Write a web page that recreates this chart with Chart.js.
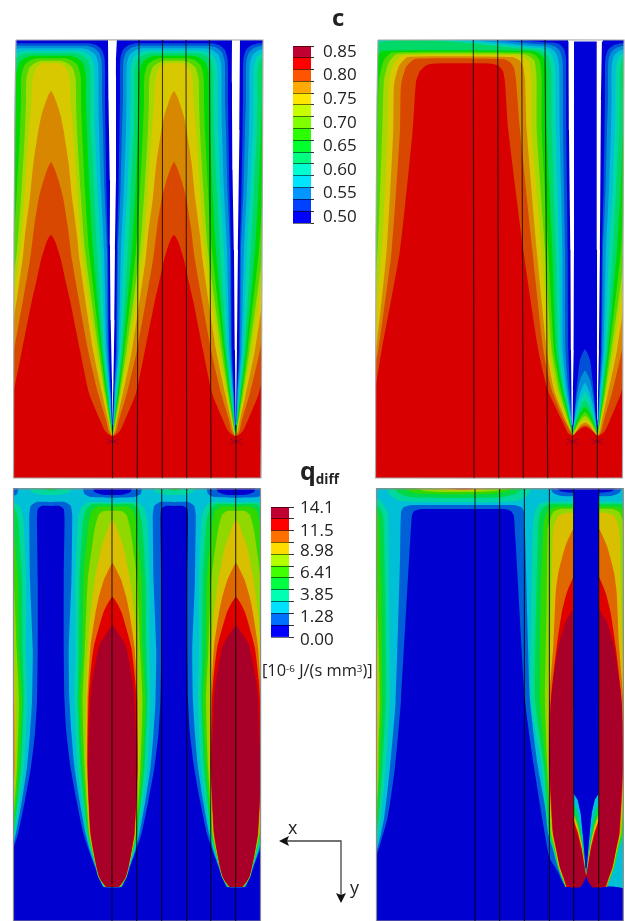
<!DOCTYPE html>
<html><head><meta charset="utf-8">
<script src="https://cdn.jsdelivr.net/npm/chart.js@4"></script>
<style>
html,body{margin:0;padding:0;background:#fff;width:625px;height:921px;overflow:hidden}
canvas{position:absolute;display:block}
.t{position:absolute;z-index:5;font-family:"Open Sans",sans-serif;color:#222;white-space:nowrap;line-height:1}
sup{font-size:60%;line-height:0;vertical-align:baseline;position:relative;top:-.45em}
sub{font-size:54%;line-height:0;vertical-align:baseline;position:relative;top:.28em}
</style></head><body>
<div class="t" style="left:332px;top:5px;font-size:24px;font-weight:700">c</div>
<div class="t" style="left:300px;top:458px;font-size:25px;font-weight:700">q<sub>diff</sub></div>
<div class="t" style="left:262px;top:662px;font-size:16.4px">[10<sup>-6</sup> J/(s mm<sup>3</sup>)]</div>
<div class="t" style="left:288px;top:818px;font-size:18px">x</div>
<div class="t" style="left:350px;top:878px;font-size:18px">y</div>
<svg style="position:absolute;left:0;top:0;z-index:4" width="625" height="921">
<path d="M287 841H341V895" fill="none" stroke="#444" stroke-width="1.3"/>
<path d="M279 841L289 836L287 841L289 846Z" fill="#111"/>
<path d="M341 903L336 893L341 895L346 893Z" fill="#111"/>
</svg>
<script>
// ---------- colours of the contour bands ----------
const cBandColors = ['#0000d8','#0050d8','#0090d8','#00c0d8','#00d8a8','#00d868','#00d800','#50d800','#a8d800','#d8c800','#d88800','#d84800','#d80000'];
const qBlue='#0000d0', qRoyal='#0060d8', qCyan='#00c0d8', qTealC='#00d8a0', qGreenC='#00d848', qBrightC='#30d800', qYgC='#90d800', qYellowC='#d8c000', qOrangeC='#e06800', qRedC='#e00000', qCrimsonC='#a80028';

// ---------- colour bars ----------
const cBarColors = ['#0000ff','#0040ff','#0095ff','#00e5ff','#00ffd0','#00ff80','#00ff2b','#2bff00','#80ff00','#c8ff00','#ffe600','#ffaa00','#ff5500','#ff0000','#c00030'];
const cBarEdges = [0.4875,0.5125,0.5375,0.5625,0.5875,0.6125,0.6375,0.6625,0.6875,0.7125,0.7375,0.7625,0.7875,0.8125,0.8375,0.8625];
const cTickValues = [0.50,0.55,0.60,0.65,0.70,0.75,0.80,0.85];
const qBarColors = ['#0000ff','#0070ff','#00e0ff','#00ffb0','#00ff40','#40ff00','#b4ff00','#ffdc00','#ff7000','#ff0000','#c00030'];
const qBarEdges = [0,1,2,3,4,5,6,7,8,9,10,11];
const qTickPlaces = [-0.25,1.68,3.53,5.38,7.23,8.99,10.9];
const qTickLabels = ['0.00','1.28','3.85','6.41','8.98','11.5','14.1'];

// ---------- c, left panel: half width of each contour about a lobe centre [d, depth] ----------
const cLobeCentres = [51,174,297];
const cL1 = [[0,43.3],[38,43.3],[46,45.5],[51,50],[53.5,58],[54,70],[54,100],[54.5,130],[55.5,190],[57,250],[58,350],[60,393],[61,420],[61.3,430],[61.5,436.5]];
const cL2 = [[0,45.8],[35,45.8],[43,48],[48,52.5],[50.5,60],[51,72],[51,100],[52,130],[53.5,190],[56,250],[57,350],[59.5,393],[60.5,420],[61.2,430],[61.5,436.5]];
const cL3 = [[0,48.3],[31,48.3],[39,50.5],[44.5,55],[47,63],[47.5,75],[47.5,100],[48,130],[50,190],[53,250],[55.5,350],[59,393],[60.5,420],[61.1,430],[61.5,436.5]];
const cL4 = [[0,50.8],[27,50.8],[35,53],[40.5,57.5],[43,66],[43.5,78],[43.5,100],[44,130],[46.5,190],[50,250],[54,350],[58,393],[60,420],[61,430],[61.5,436.5]];
const cL5 = [[0,53.3],[23,53.3],[31,55.5],[36.5,60],[39,69],[39.5,80],[39.5,100],[40,130],[43,190],[46,250],[52.5,350],[57,393],[60,420],[60.9,430],[61.5,436.5]];
const cL6 = [[0,55.8],[19,55.8],[26,58],[31.5,62.5],[34.5,72],[35,85],[35,100],[36,130],[38.5,190],[42,250],[51,350],[56,393],[59.5,420],[60.7,430],[61.5,436.5]];
const cL7 = [[0,58.3],[14,58.3],[21,60.5],[26.5,65],[29.5,75],[30,88],[30,100],[31,130],[34,190],[38,250],[49.5,350],[55,393],[59,420],[60.5,430],[61.5,436.5]];
const cL8 = [[0,60.8],[9,60.8],[16,63],[21.5,67.5],[24.5,78],[25,90],[25,100],[26,130],[29.5,190],[34,250],[47.5,350],[54,393],[58.5,420],[60.2,430],[61.5,436.5]];
const cL9 = [[0,63.3],[8,63.3],[12.5,65.5],[16,70],[18.5,80],[19.5,100],[22,130],[26,190],[31,250],[45.5,350],[53,393],[58,420],[59.8,430],[61.5,436.5]];
const cL10 = [[0,91],[3,96],[6,104],[9.5,115],[12.5,130],[17.5,162],[21,197],[26,235],[28.5,260],[42,350],[51,393],[57,420],[59,430],[61.5,436.5]];
const cL11 = [[0,162],[4,170],[8,182],[12,197],[17,228],[21,260],[37,350],[47,393],[55,420],[57.5,431],[59.5,434.5],[61.5,436.5]];
const cL12 = [[0,235],[4,241],[10,260],[15,283],[19,300],[29,350],[38,393],[49,420],[53.5,430],[57,434],[61.5,436.5]];
const cLevels = [cL1,cL2,cL3,cL4,cL5,cL6,cL7,cL8,cL9,cL10,cL11,cL12];

const slitA1 = [[108,38],[108.5,100],[110,180],[110,250],[110.7,320],[112,380],[112.5,425],[113.5,380],[114.5,320],[115,250],[116,180],[116,60],[117,38]];
const slitA2 = [[232,38],[232,100],[232.5,170],[234,250],[235,350],[236,425],[237,350],[238,250],[239.5,130],[240,38]];
const edgeLeftA = [[16,40],[15,100],[14,240],[13.5,478]];
const edgeRightA = [[263,40],[262,260],[261,478]];
const linesA = [[[139,40],[138,200],[137.3,478]],[[162.5,40],[162.3,478]],[[186,40],[186.7,478]],[[209.5,40],[210,200],[211,478]],[[112.5,425],[112.5,478]],[[236,425],[236,478]]];
const starsA = [[[106.5,444],[118.5,439]],[[106.5,439],[118.5,444]],[[230,444],[242,439]],[[230,439],[242,444]]];

// ---------- c, right panel: contours of the wide lobe [x, depth] ----------
const bL1 = [[370,42.5],[552,42.5],[559,44],[564,49],[566,58],[566.3,130],[567.7,250],[568.3,350],[570,390],[572,420],[572.5,436.5]];
const bL2 = [[370,44.5],[547,44.5],[555,46.5],[560,51],[562.7,62],[563,130],[565,250],[565.5,350],[568.3,390],[571.7,420],[572.5,436.5]];
const bL3 = [[370,46.5],[543,46.5],[551,48.5],[556,53],[559,65],[559.7,130],[562.3,250],[562.7,350],[566.7,390],[571.3,420],[572.5,436.5]];
const bL4 = [[370,48],[539,48],[547,50],[552,55],[555,67],[555.7,130],[559,250],[560.7,350],[565.3,390],[571,420],[572.5,436.5]];
const bL5 = [[370,49.5],[535,49.5],[543,52],[548,57],[551,69],[551.7,130],[555.7,250],[558.3,350],[564,390],[570.3,420],[572.5,436.5]];
const bL6 = [[372,300],[372,70],[376,58],[382,51],[532,51],[539,53.5],[544,58],[546.5,72],[546.7,130],[552.3,250],[556,350],[562.7,390],[569.7,420],[572.5,436.5]];
const bL7 = [[372,300],[375,250],[377.7,130],[379,80],[384,60],[392,52.5],[528,52.5],[535,55],[539.5,60],[541.5,74],[541.7,130],[548.3,250],[554,350],[561,390],[569,420],[572.5,436.5]];
const bL8 = [[372,320],[377.7,250],[382.3,130],[384,80],[389,62],[397,54],[523,54],[530,56.5],[534.5,61],[536.5,76],[536.7,130],[545,250],[551.7,350],[559,390],[568,420],[572.5,436.5]];
const bL9 = [[372,350],[381.7,250],[387.7,130],[389,80],[394,63],[402,55.5],[518,55.5],[525,58],[529.5,63],[531.5,77],[531.7,130],[541.7,250],[549.3,350],[556.7,390],[567,420],[572.5,436.5]];
const bL10 = [[372,365],[376,350],[386.7,250],[393.3,130],[394,85],[399,66],[408,57],[512,57],[519,60],[523,66],[525,80],[526.7,130],[536.7,250],[546.7,350],[554,390],[565.7,420],[572.5,436.5]];
const bL11 = [[372,380],[378.3,350],[391.7,250],[400,130],[401,85],[406,67],[415,59],[503,59],[510,62],[514,68],[516,80],[520,130],[532.3,250],[543.3,350],[551.7,390],[564,420],[572.5,436.5]];
const bL12 = [[370,410],[375,390],[381.7,350],[400,250],[412.7,130],[416,82],[420,71],[427,65],[435,63.5],[490,63.5],[498,65.5],[503,71],[505,82],[508.3,130],[523.3,250],[538.3,350],[547.7,390],[561.7,420],[568,433],[572.5,436.5]];
const bLevels = [bL1,bL2,bL3,bL4,bL5,bL6,bL7,bL8,bL9,bL10,bL11,bL12];
// domes at the foot of the separator [half width, depth]
const dome1 = [[0,349.3],[5,360],[7.5,380],[9.5,400],[11,420],[12.5,436]];
const dome2 = [[0,370.7],[5,380],[8,395],[10,412],[12.5,436]];
const dome3 = [[0,383],[4.5,392],[8,405],[10.5,420],[12.5,436]];
const dome4 = [[0,392],[4.5,400],[8,412],[11,425],[12.5,436]];
const dome5 = [[0,400],[4.5,407],[8,417],[11,428],[12.5,436]];
const dome6 = [[0,407],[4.5,413],[8,421],[11,430],[12.5,436]];
const dome7 = [[0,412],[4.5,417],[8,424],[11,431],[12.5,436]];
const dome8 = [[0,416],[4.5,420],[8,426],[11,432],[12.5,436]];
const dome9 = [[0,420],[4.5,423],[8,428],[11,433],[12.5,436]];
const dome10 = [[0,422.5],[4.5,425],[8,430],[11,434],[12.5,436]];
const dome11 = [[0,425],[4.5,427],[8,431],[11,434.5],[12.5,436]];
const dome12 = [[0,427],[4.5,429],[8,432],[11,435],[12.5,436]];
const bDomes = [dome1,dome2,dome3,dome4,dome5,dome6,dome7,dome8,dome9,dome10,dome11,dome12];
const slitB1 = [[568.5,38],[569,130],[570.5,250],[571,350],[572,420],[572.5,430],[572.7,420],[573,390],[573.7,350],[574,250],[574,38]];
const slitB2 = [[596.7,38],[597,250],[597.3,420],[597.5,430],[598,400],[599,350],[600,250],[601,100],[602,38]];
const toothCapB = [[568,38],[603,38],[603,41.5],[568,41.5]];
const edgeLeftB = [[378,40],[377,100],[376,240],[375.5,478]];
const edgeRightB = [[624,40],[623,250],[622.5,478]];
const linesB = [[[473.3,40],[474,478]],[[497.7,40],[498.7,478]],[[521.7,40],[523.3,478]],[[545,40],[547.7,478]],[[572.3,425],[572.3,478]],[[597.3,425],[597.3,478]]];
const starsB = [[[566.5,444],[578.5,439]],[[566.5,439],[578.5,444]],[[591,444],[603,439]],[[591,439],[603,444]]];

// ---------- q, left panel: half widths about the hot lobes [d, depth] ----------
const qLobeCentres = [-11,112.5,236];
const qValleyCentres = [50.75,174.25,297.75];
const vRoyal = [[0,502],[14,502],[20,506],[21.5,515],[21.5,520],[20.7,580],[18,650],[18.7,700],[20.7,733],[23.7,767],[28.7,800],[34.7,833],[39,850],[44.7,867],[47.7,877],[50.2,882],[53,887]];
const vBlue = [[0,506],[9,506],[13,509],[13.8,520],[13,580],[13,650],[13.75,700],[15.7,733],[19.75,767],[25.7,800],[32.5,833],[38,850],[44.2,867],[47.3,877],[49.9,882],[52.7,887]];
const qTeal = [[0,502],[24,502],[31,507],[34.5,520],[37,580],[37,650],[38,700],[35,767],[26,833],[22,850],[16.5,867],[14,877],[11.3,882],[8.6,887]];
const qGreen = [[0,504],[20,504],[26,509],[29.5,522],[33,580],[33.7,650],[34.7,700],[32,767],[25,833],[21,850],[16.3,867],[13.8,877],[11,882],[8.2,887]];
const qBright = [[0,506.7],[15,506.7],[21,511],[24,525],[29,580],[30,650],[33,700],[30,767],[24,833],[20.5,850],[16.2,867],[13.7,877],[10.8,882],[7.6,887]];
const qYg = [[0,510.7],[9,511],[14,515],[18,530],[24.7,580],[27.7,650],[30,700],[28,767],[23.5,833],[20.1,850],[16.15,867],[13.6,877],[10.6,882],[7.2,887]];
const qYellow = [[0,520],[3,524],[5,530],[11,547],[17.7,580],[22,613],[24.7,647],[26.5,700],[26.5,767],[23,833],[19.8,850],[16.1,867],[13.5,877],[10.5,882],[7,887]];
const qOrange = [[0,563],[4,570],[8.7,580],[13.7,597],[17,613],[22,647],[25,700],[25.5,767],[22.5,833],[19.5,850],[16.05,867],[13.4,877],[10.4,882],[6.5,887]];
const qRed = [[0,597],[5,604],[9.3,613],[18.7,647],[22.7,680],[24,700],[25,767],[22,833],[19.3,850],[16,867],[13.3,877],[10.3,882],[6.3,887]];
const qCrimson = [[0,625],[5,632],[9,638],[13.7,647],[20,680],[22,700],[24.5,767],[23.7,800],[21.7,833],[19,850],[15.7,867],[13,877],[10,882],[7.5,885.5],[6,887]];
const qPatchRoyal = [[0,497.7],[22,497],[28,494],[29.5,488]];
const qPatchBlue = [[0,495],[10,494.7],[18,492],[19.5,488]];
const qDomeTeal = [[0,495],[10,494.7],[18,492.5],[21.7,488]];
const qDomeGreen = [[0,490.7],[4,490.2],[6.7,488]];
const edgeLeftC = [[13.5,488],[13.5,921]];
const edgeRightC = [[260.5,488],[260.5,921]];
const linesC = [[[112,489],[112,921]],[[136.7,489],[136.7,921]],[[161.7,489],[161.7,921]],[[186.7,489],[186.7,921]],[[210.7,489],[210.7,921]],[[235.7,489],[235.7,921]]];
const tipsC = [[112,885],[236,885]];

// ---------- q, right panel ----------
const dRoyal = [[412,505],[404,507],[401,512],[400,560],[395.7,700],[390,767],[384.3,817],[377.7,847],[370,860],[370,925],[625,925],[625,889],[566.7,885],[560,870],[555,857],[538,767],[530,700],[524.3,512],[521,507],[514,505]];
const dBlue = [[422,509],[414,511],[411.7,516.7],[401,700],[395,767],[387.7,817],[376.7,855],[370,865],[370,925],[625,925],[625,889],[565,885],[558,872],[549.3,857],[534,767],[525,700],[514,516.7],[511,511],[504,509]];
const dLeftTeal = [[370,860],[377,843],[381,817],[385.7,767],[390,700],[389,600],[387.7,513],[380,500],[376.7,498],[370,497]];
const dLeftGreen = [[370,835],[377.3,827],[380,800],[382.3,767],[385.7,700],[385,580],[383.3,517],[381,510],[376,504],[370,503]];
const dLeftBright = [[370,825],[377.3,817],[378.3,800],[380.7,750],[382.3,700],[381,580],[379,520],[376.5,510],[370,508]];
const dLeftYg = [[370,810],[377.3,800],[378.7,750],[380,700],[378,620],[376,570],[370,560]];
const dLeftYellow = [[370,790],[377,780],[378,740],[378.7,700],[377.5,650],[376,620],[370,600]];
const dTopTeal = [[386,488],[390,495],[398,500.5],[415,502],[505,502],[520,500],[528,495],[532,488]];
const dTopGreen = [[393,488],[400,494],[412,497.5],[500,497.5],[515,494],[524,488]];
const dTopBright = [[403,488],[412,492.5],[425,494],[490,494],[505,492],[515,488]];
const dTopYg = [[415,488],[425,491],[440,492],[480,492],[495,491],[511,488]];
const dTopYellow = [[432,488],[445,490.3],[480,490.3],[488,488]];
const dTopOrange = [[448,488],[458,489.8],[470,489.8],[474,488]];
const dLobeCentre = [586.2];
const dTeal = [[0,501.7],[40,501.7],[48,505],[52,515],[53.5,530],[55,600],[55.5,700],[44.5,767],[38.2,833],[33,850],[28.5,867],[25,877],[20.8,887]];
const dGreen = [[0,504],[36,504],[43,507],[47,517],[48,530],[50,600],[51.2,700],[42.2,767],[37.2,833],[32,850],[28,867],[24.6,877],[20.6,887]];
const dBright = [[0,506.7],[31,506.7],[38,510],[42,520],[43,530],[45.5,600],[46.2,700],[40.2,767],[36.2,833],[31.5,850],[27.8,867],[24.2,877],[20.4,887]];
const dYg = [[0,509],[26,509],[33,512],[37,522],[38.5,530],[39.5,600],[41.2,700],[38.9,767],[35.2,833],[31,850],[27.5,867],[24,877],[20.2,887]];
const dYellow = [[0,513],[20,513],[28,516],[32,525],[33.5,535],[34.5,580],[36,640],[38.5,700],[37.9,767],[34.2,833],[30.5,850],[27,867],[23.5,877],[20,887]];
const dOrange = [[0,518],[12.5,528.3],[21,546.7],[27.9,573],[30.5,593],[32.9,646],[37,700],[37.2,767],[33.7,833],[30,850],[26.7,867],[23.2,877],[19.9,887]];
const dRed = [[0,565],[12.5,576.7],[19.5,593],[24.5,613],[29.5,647],[34.5,690],[36.4,720],[36.9,767],[33.2,833],[29.8,850],[26.3,867],[22.8,877],[19.7,887]];
const dCrimson = [[0,595],[12.5,608.3],[21,623],[27.9,647],[32.9,680],[35.5,705],[36.2,767],[34.8,800],[32.9,833],[29.5,850],[26,867],[22.5,877],[19.2,885],[16,887.5]];
const dPatchRoyal = [[0,496],[25,496],[33,493],[36,488]];
const dPatchBlue = [[0,492.8],[18,492.5],[26,491],[29.5,488]];
// wedges at the foot of the separator [distance from its edge, depth]
const wRed = [[0,826],[4,836.7],[8,853.3],[10.5,866.7],[12.5,876.7]];
const wYellow = [[0,820],[4,831.7],[8,848.3],[10.5,863.3],[12.5,875]];
const wGreen = [[0,813.3],[4,825],[8,843.3],[10.5,860],[12.5,875]];
const wCyan = [[0,803.3],[3,810],[6,823.3],[8.5,840],[10.5,856.7],[12.5,873.3]];
const wRoyal = [[0,793.3],[4,800],[7,813.3],[9,833.3],[10.5,850],[12,868],[12.5,874]];
const wBlue = [[0,793.3],[4,800],[7,813.3],[9,833.3],[10.5,850],[12,868]];
const dFootNotch = [[580,888],[584,882],[586.2,876],[588.4,882],[592.5,888]];
const edgeLeftD = [[376.5,488],[376.5,921]];
const edgeRightD = [[623.3,488],[623.3,921]];
const linesD = [[[475,489],[475,921]],[[499.6,489],[499.6,921]],[[524.4,489],[524.4,921]],[[549.4,489],[549.4,921]],[[573.7,489],[573.7,921]],[[598.7,489],[598.7,921]]];
const tipsD = [[573.7,885],[598.7,885]];

// ---------- builders ----------
const toXY = pts => pts.map(([x,y]) => ({x,y}));
const poly = (pts,color,tension=0.18) => ({data:toXY(pts),showLine:true,fill:'shape',backgroundColor:color,borderWidth:0,borderColor:'transparent',pointRadius:0,tension});
const stroke = (pts,color,width) => ({data:toXY(pts),showLine:true,fill:false,borderColor:color,borderWidth:width,pointRadius:0,tension:0.001});
const dots = (pts,color,r) => ({data:toXY(pts),showLine:false,fill:false,pointRadius:r,pointBackgroundColor:color,pointBorderWidth:0});
function mirrored(list,centres,start,end){
  const out = start ? [...start] : [];
  centres.forEach(c=>{
    for(let i=list.length-1;i>=0;i--) out.push([c-list[i][0],list[i][1]]);
    for(let i=0;i<list.length;i++) if(list[i][0]!==0) out.push([c+list[i][0],list[i][1]]);
  });
  return end ? out.concat(end) : out;
}
function frame(sets,left,right,xmin,xmax,ymin,ymax,edgeColor){
  const l=left[0][1], lb=left[left.length-1][1];
  sets.push(poly([[xmin,ymin],...left,[xmin,ymax]],'#fff',0.001));
  sets.push(poly([[xmax,ymin],...right,[xmax,ymax]],'#fff',0.001));
  const bottom=Math.max(lb,right[right.length-1][1]);
  if(bottom<ymax) sets.push(poly([[xmin,bottom],[xmax,bottom],[xmax,ymax],[xmin,ymax]],'#fff',0.001));
  if(l>ymin) sets.push(poly([[xmin,ymin],[xmax,ymin],[xmax,l],[xmin,l]],'#fff',0.001));
  sets.push(stroke([...left,...[...right].reverse(),left[0]],edgeColor,1.2));
}
function panel(xmin,xmax,ymin,ymax,sets){
  const cv=document.createElement('canvas');
  cv.width=xmax-xmin; cv.height=ymax-ymin;
  cv.style.left=xmin+'px'; cv.style.top=ymin+'px';
  cv.style.width=(xmax-xmin)+'px'; cv.style.height=(ymax-ymin)+'px';
  document.body.appendChild(cv);
  const n=sets.length;
  sets.forEach((s,i)=>{s.order=n-i;});
  new Chart(cv,{type:'scatter',data:{datasets:sets},options:{
    responsive:false,animation:false,devicePixelRatio:1,layout:{padding:0,autoPadding:false},
    elements:{line:{capBezierPoints:false}},
    plugins:{legend:{display:false},tooltip:{enabled:false},title:{display:false}},
    scales:{x:{type:'linear',display:false,min:xmin,max:xmax},y:{type:'linear',display:false,reverse:true,min:ymin,max:ymax}}
  }});
}
function colorBar(left,top,barW,axisW,height,pad,colors,edges,min,max,ticks,label,tickLen,tickPad,markColor){
  const cv=document.createElement('canvas');
  const W=barW+axisW,H=height+2*pad;
  cv.width=W;cv.height=H;cv.style.left=left+'px';cv.style.top=(top-pad)+'px';cv.style.width=W+'px';cv.style.height=H+'px';
  document.body.appendChild(cv);
  new Chart(cv,{type:'bar',data:{labels:['v'],datasets:colors.map((col,i)=>({data:[[edges[i],edges[i+1]]],backgroundColor:col,grouped:false,barPercentage:1,categoryPercentage:1,borderWidth:0}))},options:{
    responsive:false,animation:false,devicePixelRatio:1,layout:{padding:{top:pad,bottom:pad,left:0,right:0},autoPadding:false},
    plugins:{legend:{display:false},tooltip:{enabled:false}},
    scales:{x:{display:false},y:{position:'right',min,max,
      afterFit:s=>{s.width=axisW;s.paddingTop=0;s.paddingBottom=0;},
      afterBuildTicks:s=>{s.ticks=ticks.map(v=>({value:v}));},
      border:{display:false},
      grid:{z:1,tickLength:tickLen,lineWidth:1,color:c=>markColor(c.tick?c.tick.value:0,.55),tickColor:c=>markColor(c.tick?c.tick.value:0,.8)},
      ticks:{autoSkip:false,maxRotation:0,padding:tickPad,color:'#222',font:{family:'"Open Sans"',size:17},callback:label}
    }}
  }});
}

// ---------- panel A ----------
(function(){
  const xmin=8,xmax=268,ymin=39,ymax=482,s=[];
  s.push(poly([[xmin,ymin],[xmax,ymin],[xmax,ymax],[xmin,ymax]],cBandColors[0],0.001));
  cLevels.forEach((lv,i)=>s.push(poly(mirrored(lv,cLobeCentres,[[-20,490]],[[370,490]]),cBandColors[i+1])));
  s.push(poly(slitA1,'#fff',0.001)); s.push(poly(slitA2,'#fff',0.001));
  starsA.forEach(l=>s.push(stroke(l,'rgba(70,0,110,.45)',1)));
  frame(s,edgeLeftA,edgeRightA,xmin,xmax,ymin,ymax,'#a8a8a8');
  linesA.forEach(l=>s.push(stroke(l,'rgba(0,0,0,.72)',1.1)));
  panel(xmin,xmax,ymin,ymax,s);
})();
// ---------- panel B ----------
(function(){
  const xmin=370,xmax=625,ymin=39,ymax=482,s=[];
  s.push(poly([[xmin,ymin],[xmax,ymin],[xmax,ymax],[xmin,ymax]],cBandColors[0],0.001));
  bLevels.forEach((lv,i)=>{
    s.push(poly([[368,490],...lv,[572.5,490]],cBandColors[i+1]));
    s.push(poly(mirrored(cLevels[i],[659],[[597.5,490]],[[730,490]]),cBandColors[i+1]));
  });
  bDomes.forEach((d,i)=>s.push(poly(mirrored(d,[585]),cBandColors[i+1])));
  s.push(poly([[572.5,436],[597.5,436],[597.5,490],[572.5,490]],cBandColors[12],0.001));
  s.push(poly(mirrored(dome12,[585]),cBandColors[12]));
  s.push(poly(slitB1,'#fff',0.001)); s.push(poly(slitB2,'#fff',0.001)); s.push(poly(toothCapB,'#fff',0.001));
  starsB.forEach(l=>s.push(stroke(l,'rgba(70,0,110,.45)',1)));
  frame(s,edgeLeftB,edgeRightB,xmin,xmax,ymin,ymax,'#a8a8a8');
  linesB.forEach(l=>s.push(stroke(l,'rgba(0,0,0,.72)',1.1)));
  panel(xmin,xmax,ymin,ymax,s);
})();
// ---------- panel C ----------
(function(){
  const xmin=8,xmax=266,ymin=488,ymax=921,s=[];
  s.push(poly([[xmin,ymin],[xmax,ymin],[xmax,ymax],[xmin,ymax]],qCyan,0.001));
  s.push(poly(mirrored(vRoyal,qValleyCentres,[[-30,930]],[[370,930]]),qRoyal));
  s.push(poly(mirrored(vBlue,qValleyCentres,[[-30,930]],[[370,930]]),qBlue));
  [[qTeal,qTealC],[qGreen,qGreenC],[qBright,qBrightC],[qYg,qYgC],[qYellow,qYellowC],[qOrange,qOrangeC],[qRed,qRedC],[qCrimson,qCrimsonC]]
    .forEach(([l,c])=>qLobeCentres.forEach(x=>s.push(poly(mirrored(l,[x]),c))));
  qLobeCentres.forEach(x=>{s.push(poly(mirrored(qPatchRoyal,[x]),qRoyal));s.push(poly(mirrored(qPatchBlue,[x]),qBlue));});
  qValleyCentres.forEach(x=>{s.push(poly(mirrored(qDomeTeal,[x]),qTealC));s.push(poly(mirrored(qDomeGreen,[x]),qGreenC));});
  s.push(dots(tipsC,'#f00000',1.6));
  frame(s,edgeLeftC,edgeRightC,xmin,xmax,ymin,ymax,'#8c8c8c');
  s.push(stroke([[13.5,489],[260.5,489]],'#8c8c8c',1.2));
  linesC.forEach(l=>s.push(stroke(l,'rgba(0,0,0,.78)',1.1)));
  panel(xmin,xmax,ymin,ymax,s);
})();
// ---------- panel D ----------
(function(){
  const xmin=370,xmax=625,ymin=488,ymax=921,s=[];
  s.push(poly([[xmin,ymin],[xmax,ymin],[xmax,ymax],[xmin,ymax]],qCyan,0.001));
  s.push(poly(dRoyal,qRoyal)); s.push(poly(dBlue,qBlue));
  [[dLeftTeal,qTealC],[dLeftGreen,qGreenC],[dLeftBright,qBrightC],[dLeftYg,qYgC],[dLeftYellow,qYellowC]]
    .forEach(([l,c])=>s.push(poly([[360,930],...l,[360,480]],c)));
  [[dTopTeal,qTealC],[dTopGreen,qGreenC],[dTopBright,qBrightC],[dTopYg,qYgC],[dTopYellow,qYellowC],[dTopOrange,qOrangeC]]
    .forEach(([l,c])=>s.push(poly(l,c)));
  [[dTeal,qTealC],[dGreen,qGreenC],[dBright,qBrightC],[dYg,qYgC],[dYellow,qYellowC],[dOrange,qOrangeC],[dRed,qRedC],[dCrimson,qCrimsonC]]
    .forEach(([l,c])=>s.push(poly(mirrored(l,dLobeCentre),c)));
  s.push(poly(mirrored(dPatchRoyal,dLobeCentre),qRoyal)); s.push(poly(mirrored(dPatchBlue,dLobeCentre),qBlue));
  const toothEdge=[573.7,598.7];
  [[wRed,qRedC],[wYellow,qYellowC],[wGreen,qGreenC],[wCyan,qCyan],[wRoyal,qRoyal],[wBlue,qBlue]].forEach(([w,c])=>{
    const a=w.map(([e,y])=>[toothEdge[0]+e,y]), b=w.map(([e,y])=>[toothEdge[1]-e,y]).reverse();
    s.push(poly([[toothEdge[0],486],...a,...b,[toothEdge[1],486]],c,0.05));
  });
  s.push(poly(dFootNotch,qBlue,0.001));
  s.push(dots(tipsD,'#f00000',1.6));
  frame(s,edgeLeftD,edgeRightD,xmin,xmax,ymin,ymax,'#8c8c8c');
  s.push(stroke([[376.5,489],[623.3,489]],'#8c8c8c',1.2));
  linesD.forEach(l=>s.push(stroke(l,'rgba(0,0,0,.78)',1.1)));
  panel(xmin,xmax,ymin,ymax,s);
})();

// ---------- colour bars ----------
const cAllTicks=[...cBarEdges,...cTickValues].sort((a,b)=>a-b);
const isC=v=>cTickValues.some(t=>Math.abs(t-v)<1e-6);
colorBar(293,46,18,60,177,10,cBarColors,cBarEdges,0.4875,0.8625,cAllTicks,
  v=>isC(v)?v.toFixed(2):'',3,9,(v,a)=>isC(v)?'rgba(0,0,0,0)':'rgba(0,0,0,'+a+')');
const qAllTicks=[...qBarEdges,...qTickPlaces].sort((a,b)=>a-b);
const qIdx=v=>qTickPlaces.findIndex(t=>Math.abs(t-v)<1e-6);
colorBar(271,507,18,60,136,10,qBarColors,qBarEdges,-0.5,11,qAllTicks,
  v=>qIdx(v)>=0?qTickLabels[qIdx(v)]:'',5,6,(v,a)=>qIdx(v)>=0?'rgba(0,0,0,0)':'rgba(0,0,0,'+a+')');
</script>
</body></html>
